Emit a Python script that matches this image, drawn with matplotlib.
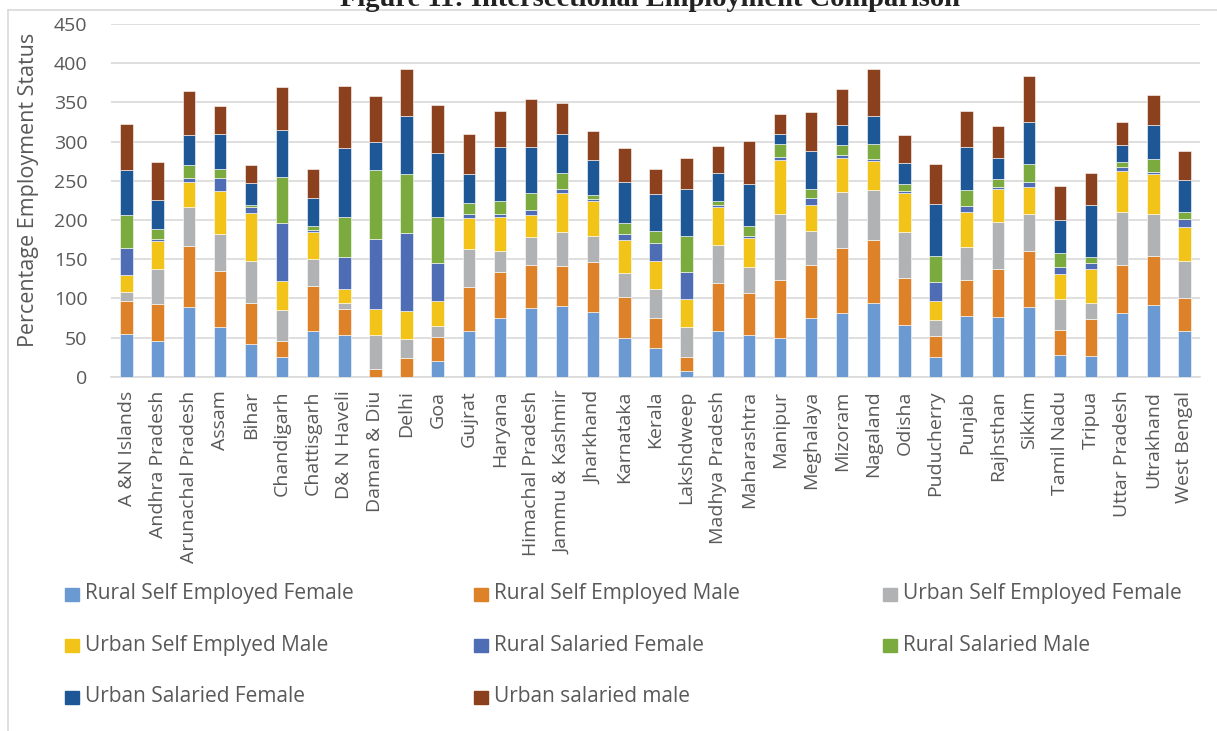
import numpy as np
import matplotlib
matplotlib.use("Agg")
import matplotlib.pyplot as plt
from matplotlib.patches import Rectangle
from matplotlib.lines import Line2D

plt.rcParams['font.family'] = ['Open Sans', 'DejaVu Sans']

### --- data --- ###
states = ["A &N Islands", "Andhra Pradesh", "Arunachal Pradesh", "Assam", "Bihar",
          "Chandigarh", "Chattisgarh", "D& N Haveli", "Daman & Diu", "Delhi", "Goa",
          "Gujrat", "Haryana", "Himachal Pradesh", "Jammu & Kashmir", "Jharkhand",
          "Karnataka", "Kerala", "Lakshdweep", "Madhya Pradesh", "Maharashtra",
          "Manipur", "Meghalaya", "Mizoram", "Nagaland", "Odisha", "Puducherry",
          "Punjab", "Rajhsthan", "Sikkim", "Tamil Nadu", "Tripua", "Uttar Pradesh",
          "Utrakhand", "West Bengal"]

rural_self_female = [55, 45, 89, 64, 42, 25, 58, 53, 0, 0, 20, 58, 75, 88, 90.5, 83, 50, 36,
                     7, 58, 53.5, 50, 75.5, 81, 94.5, 66, 24.5, 78, 76.5, 89.5, 28, 27, 81, 92, 58]
rural_self_male = [42, 48, 78, 71, 52, 20, 58, 34, 10, 24, 31, 57, 58, 54, 51, 63, 52, 39,
                   18.5, 61, 53, 73, 67, 83, 80, 60.5, 28, 45.5, 61.5, 71, 31, 47, 62, 62, 43]
urban_self_female = [11, 44, 49, 47, 54, 40, 34, 7, 43.5, 23.5, 13.5, 48, 28, 36, 42.5, 34, 30,
                     36.5, 38.5, 48.5, 34, 85, 44, 72, 64, 58.5, 20, 41.5, 60, 46.5, 39.5, 19.5,
                     67.5, 54, 46]
urban_self_male = [22, 36, 32, 55, 61, 37, 35, 18, 32.5, 36.5, 32, 40, 43, 28, 50, 44, 42.5,
                   36.5, 35, 48.5, 36.5, 68.5, 32, 42.5, 36.5, 49, 24.5, 45, 42, 35.5, 33, 44,
                   52.5, 50.5, 44.5]
rural_sal_female = [34.5, 3, 6, 17, 7, 74, 2.5, 41, 89.5, 99, 49, 5, 4, 6.5, 5.5, 2.5, 8, 23,
                    35, 2.5, 3, 4, 9, 4, 3, 3, 23.5, 8, 2, 6.5, 9, 8, 4, 3, 10]
rural_sal_male = [41.5, 12, 16, 11, 3, 59, 5, 51, 88.5, 75.5, 58, 13, 16.5, 22, 20.5, 5, 13.5,
                  15.5, 45, 5.5, 12.5, 16, 12, 13, 19, 8.5, 33, 20.5, 10, 23, 17, 7, 6.5, 16.5, 9]
urban_sal_female = [58, 37, 38, 45, 28, 60, 36, 88, 35, 74.5, 82.5, 37, 68, 59, 50, 45, 53, 46,
                    61, 35.5, 53.5, 13, 48, 25, 36, 27.5, 67, 54, 26.5, 53, 42.5, 67, 22, 42.5, 40.5]
urban_sal_male = [58, 49, 57, 35, 23, 55, 37, 79, 58.5, 59, 60.5, 52, 46, 61, 39, 37, 42.5, 32,
                  39, 35, 54.5, 25.5, 50, 47, 59, 35.5, 51, 47, 41.5, 59, 43.5, 40, 29.5, 39.5, 37.5]

series_names = ["Rural Self Employed Female", "Rural Self Employed Male",
                "Urban Self Employed Female", "Urban Self Emplyed Male",
                "Rural Salaried Female", "Rural Salaried Male",
                "Urban Salaried Female", "Urban salaried male"]
series_values = [rural_self_female, rural_self_male, urban_self_female, urban_self_male,
                 rural_sal_female, rural_sal_male, urban_sal_female, urban_sal_male]
colors = ["#6B99D1", "#DD8229", "#B1B2B4", "#F2C318",
          "#4E6DB5", "#7BAA3F", "#1D5796", "#8B411D"]

W, H = 1217, 731
grey_txt = "#595959"
fig = plt.figure(figsize=(W / 100, H / 100), dpi=100)
ax = fig.add_axes([111 / W, 1 - 376.7 / H, (1200 - 111) / W, (376.7 - 24) / H])

x = np.arange(len(states))
bottom = np.zeros(len(states))
for name, vals, c in zip(series_names, series_values, colors):
    vals = np.array(vals, dtype=float)
    ax.bar(x, vals, 0.4, bottom=bottom, color=c, edgecolor="white", linewidth=0.4,
           label=name, zorder=3)
    bottom += vals

ax.set_xlim(-0.5, len(states) - 0.5)
ax.set_ylim(0, 450)
ax.set_yticks(np.arange(0, 451, 50))
ax.grid(axis="y", color="#D9D9D9", linewidth=1.2, zorder=0)
for s in ["top", "right", "left"]:
    ax.spines[s].set_visible(False)
ax.spines["bottom"].set_color("#D9D9D9")
ax.spines["bottom"].set_linewidth(1.2)
ax.tick_params(axis="y", length=0, pad=17, labelsize=14, labelcolor=grey_txt)
ax.tick_params(axis="x", length=0, pad=10, labelsize=14, labelcolor=grey_txt)
ax.set_xticks(x)
ax.set_xticklabels(states, rotation=90)

fig.text(29 / W, 1 - 190 / H, "Percentage Employment Status", rotation=90,
         ha="center", va="center", fontsize=15.5, color=grey_txt)

# title, clipped at the top like the source
fig.text(650 / W, 1 - 6 / H, "Figure 11: Intersectional Employment Comparison",
         ha="center", va="baseline", fontsize=20.5, fontweight="bold",
         family=["Liberation Serif", "DejaVu Serif"], color="#222222")

# chart area border
fig.add_artist(Line2D([8 / W, 8 / W], [0, 1 - 10 / H], transform=fig.transFigure,
                      color="#D9D9D9", linewidth=1.2))
fig.add_artist(Line2D([8 / W, 1], [1 - 10 / H, 1 - 10 / H], transform=fig.transFigure,
                      color="#D9D9D9", linewidth=1.2))

# legend, three columns like the Excel one
for i, (name, c) in enumerate(zip(series_names, colors)):
    col, row = i % 3, i // 3
    mx = 65 + col * 409
    my = 594 + row * 51.5
    fig.add_artist(Rectangle((mx / W, 1 - (my + 6.5) / H), 14 / W, 13 / H,
                             transform=fig.transFigure, color=c))
    fig.text((mx + 20) / W, 1 - my / H, name, ha="left", va="center",
             fontsize=15, color=grey_txt)

fig.savefig("out.png", dpi=100)
